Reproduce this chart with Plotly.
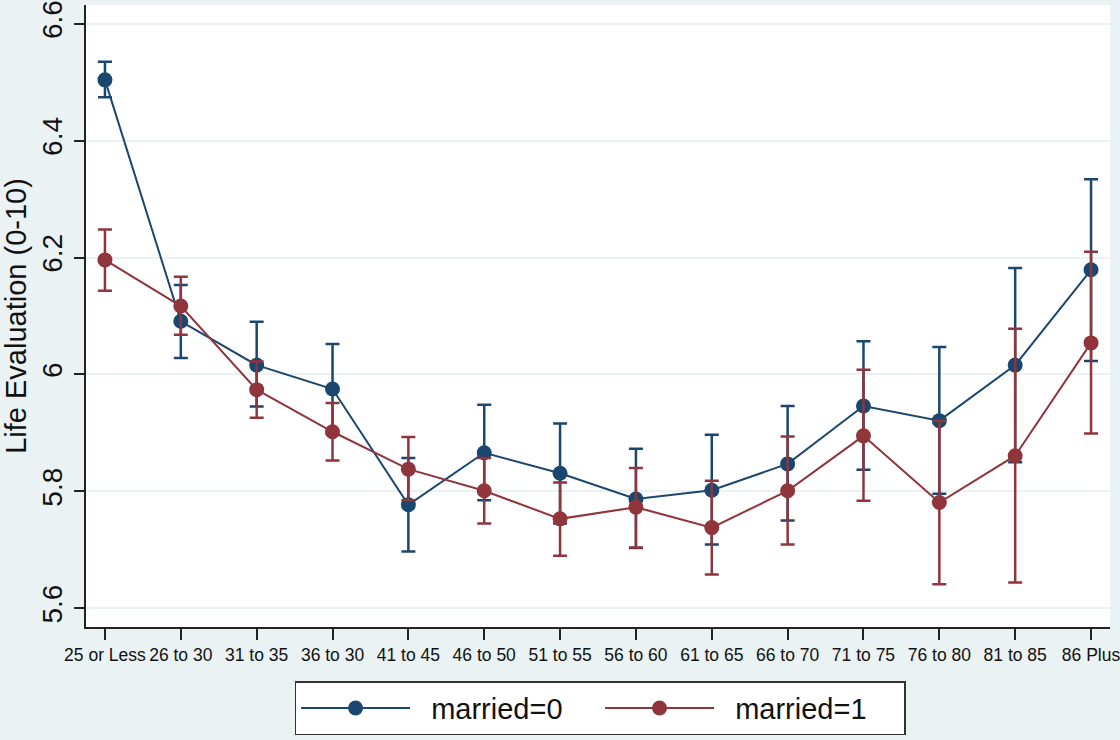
import plotly.graph_objects as go

categories = ["25 or Less", "26 to 30", "31 to 35", "36 to 30", "41 to 45", "46 to 50",
              "51 to 55", "56 to 60", "61 to 65", "66 to 70", "71 to 75", "76 to 80",
              "81 to 85", "86 Plus"]

married0 = [6.504, 6.091, 6.016, 5.975, 5.777, 5.866, 5.831, 5.787, 5.802, 5.847, 5.946, 5.921, 6.016, 6.179]
married0_hi = [6.535, 6.153, 6.090, 6.052, 5.857, 5.948, 5.916, 5.873, 5.897, 5.946, 6.057, 6.047, 6.182, 6.334]
married0_lo = [6.474, 6.028, 5.945, 5.898, 5.697, 5.785, 5.745, 5.703, 5.709, 5.750, 5.837, 5.796, 5.850, 6.023]

married1 = [6.196, 6.117, 5.974, 5.902, 5.838, 5.801, 5.753, 5.773, 5.738, 5.801, 5.895, 5.781, 5.861, 6.054]
married1_hi = [6.248, 6.167, 6.022, 5.951, 5.893, 5.857, 5.815, 5.840, 5.818, 5.894, 6.008, 5.921, 6.078, 6.210]
married1_lo = [6.143, 6.068, 5.926, 5.853, 5.785, 5.745, 5.690, 5.704, 5.658, 5.709, 5.784, 5.641, 5.644, 5.899]

BLUE = "#1a476f"
RED = "#90353b"
BG = "#eaf2f3"

x_idx = list(range(len(categories)))

def trace(name, y, hi, lo, color):
    return go.Scatter(
        x=x_idx, y=y, name="\u00a0\u00a0" + name, mode="lines+markers",
        line=dict(color=color, width=2),
        marker=dict(color=color, size=15),
        error_y=dict(type="data", symmetric=False,
                     array=[h - v for h, v in zip(hi, y)],
                     arrayminus=[v - l for v, l in zip(y, lo)],
                     color=color, thickness=2.5, width=7),
    )

fig = go.Figure()
fig.add_trace(trace("married=0", married0, married0_hi, married0_lo, BLUE))
fig.add_trace(trace("married=1", married1, married1_hi, married1_lo, RED))

fig.update_layout(
    width=1120, height=740,
    margin=dict(l=86, r=10, t=5, b=111),
    paper_bgcolor=BG, plot_bgcolor="white",
    font=dict(family="Liberation Sans, Arial, sans-serif", color="#111111"),
    showlegend=True,
    legend=dict(orientation="h", x=0.502, xanchor="center", y=-0.087, yanchor="top",
                bgcolor="white", bordercolor="#333333", borderwidth=1.5,
                font=dict(size=29), itemwidth=109, entrywidth=180),
)
fig.update_xaxes(
    range=[-0.25, 13.25], tickmode="array", tickvals=x_idx, ticktext=categories,
    showgrid=False, zeroline=False, showline=True, linecolor="#222222", linewidth=1.5,
    ticks="outside", ticklen=11, tickwidth=1.5, tickcolor="#222222",
    tickfont=dict(size=17.5), tickangle=0, automargin=False, ticklabelstandoff=0,
    ticklabeloverflow="allow",
)
fig.update_yaxes(
    range=[5.568, 6.632], tickvals=[5.6, 5.8, 6.0, 6.2, 6.4, 6.6],
    ticktext=["5.6", "5.8", "6", "6.2", "6.4", "6.6"],
    showgrid=True, gridcolor=BG, gridwidth=2, zeroline=False,
    showline=True, linecolor="#222222", linewidth=1.5,
    ticks="outside", ticklen=10, tickwidth=1.5, tickcolor="#222222",
    tickfont=dict(size=28), tickangle=-90, automargin=False, ticklabelstandoff=1,
    ticklabeloverflow="allow",
    title=dict(text="Life Evaluation (0-10)", font=dict(size=29), standoff=4),
)

fig.write_html(
    "out.html",
    config={"displayModeBar": False},
    post_script="document.body.style.margin='0';document.body.style.backgroundColor='#eaf2f3';",
)
